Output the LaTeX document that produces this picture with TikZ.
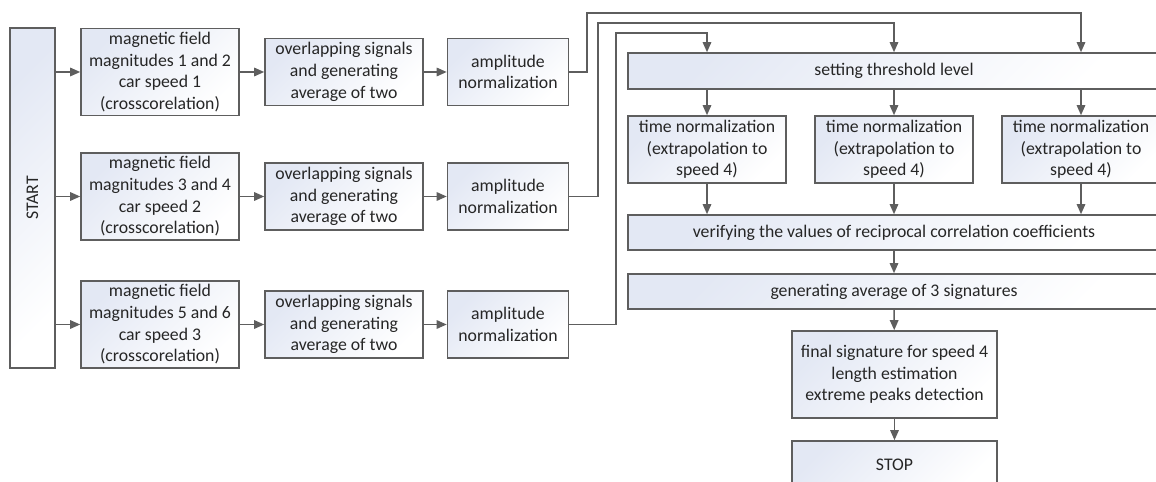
\documentclass[tikz,border=0pt]{standalone}
\usepackage{fontspec}
\setmainfont{Carlito}
\usetikzlibrary{arrows.meta}
\definecolor{linegray}{HTML}{5E5E5E}
\definecolor{boxblue}{HTML}{E3E8F4}
\begin{document}
\begin{tikzpicture}[x=0.02cm, y=-0.02cm,
	box/.style={draw=linegray, line width=0.9pt, left color=boxblue, right color=white, shading angle=45, align=center, inner sep=0pt, text=black!85, font=\fontsize{10.1}{12.35}\selectfont},
	flow/.style={draw=linegray, line width=0.9pt, -{Triangle[length=5.7pt, width=4.8pt]}}]
	\useasboundingbox (0,0) rectangle (1156,482);
	\clip (0,0) rectangle (1156,482);
	\node[box, minimum width=0.9cm, minimum height=6.8cm] (start) at (32.5,198) {\rotatebox{90}{START}};
	\foreach \i/\y/\m/\s in {1/72/1 and 2/1, 2/196.5/3 and 4/2, 3/324.5/5 and 6/3} {
		\node[box, minimum width=3.16cm, minimum height=1.74cm] (mag\i) at (160,\y) {magnetic field\\magnitudes \m\\car speed \s\\(crosscorelation)};
		\node[box, minimum width=3.16cm, minimum height=1.34cm] (ov\i) at (344,\y) {overlapping signals\\and generating\\average of two};
		\node[box, minimum width=2.42cm, minimum height=1.34cm] (amp\i) at (508,\y) {amplitude\\normalization};
		\draw[flow] (start.east |- mag\i.west) -- (mag\i.west);
		\draw[flow] (mag\i) -- (ov\i);
		\draw[flow] (ov\i) -- (amp\i);
	}
	\node[box, minimum width=10.64cm, minimum height=0.72cm] (thr) at (894,71) {setting threshold level};
	\foreach \i/\x in {1/707, 2/894, 3/1081} {
		\node[box, minimum width=3.16cm, minimum height=1.34cm] (time\i) at (\x,149.5) {time normalization\\(extrapolation to\\speed 4)};
	}
	\node[box, minimum width=10.64cm, minimum height=0.7cm] (ver) at (894,232.5) {verifying the values of reciprocal correlation coefficients};
	\node[box, minimum width=10.64cm, minimum height=0.7cm] (gen) at (894,291.5) {generating average of 3 signatures};
	\node[box, minimum width=4.1cm, minimum height=1.74cm] (fin) at (894.5,374.5) {final signature for speed 4\\length estimation\\extreme peaks detection};
	\node[box, minimum width=4.1cm, minimum height=0.96cm] (stop) at (894.5,465) {STOP};
	\draw[flow] (amp1.east) -| (587,13) -| (time3 |- thr.north);
	\draw[flow] (amp2.east) -| (598,23) -| (time2 |- thr.north);
	\draw[flow] (amp3.east) -| (616,33) -| (time1 |- thr.north);
	\foreach \i in {1,2,3} {
		\draw[flow] (time\i |- thr.south) -- (time\i.north);
		\draw[flow] (time\i.south) -- (time\i |- ver.north);
	}
	\draw[flow] (ver) -- (gen);
	\draw[flow] (gen) -- (fin);
	\draw[flow] (fin) -- (stop);
\end{tikzpicture}
\end{document}
